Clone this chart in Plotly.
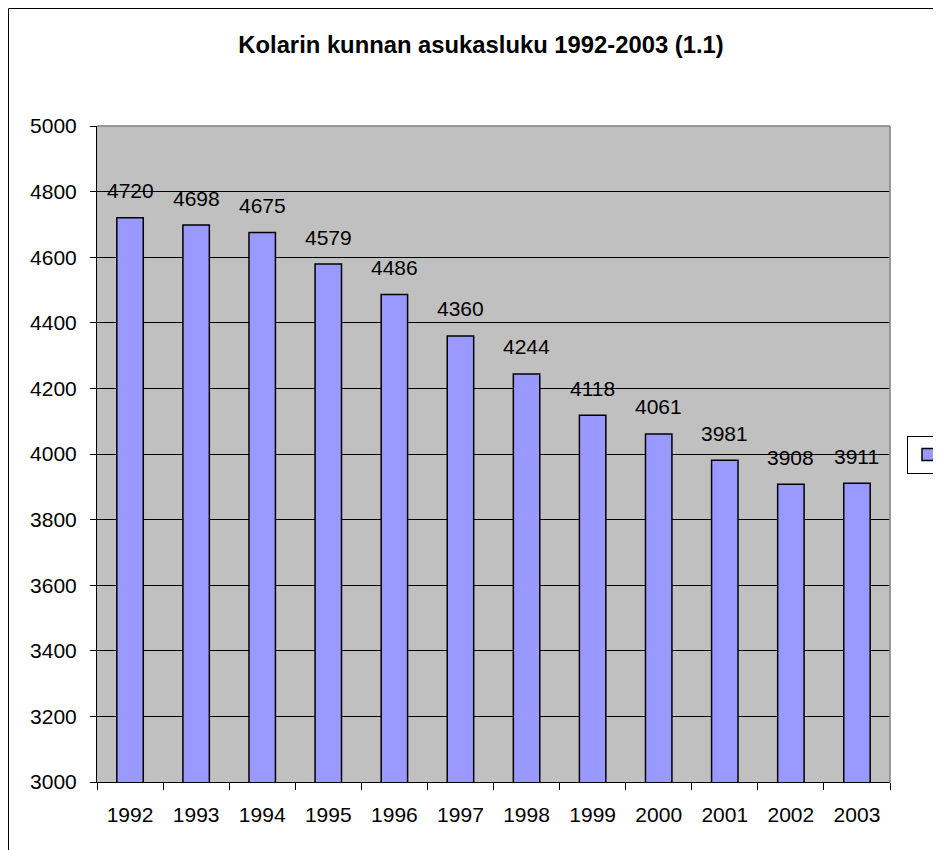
import plotly.graph_objects as go

years = ["1992", "1993", "1994", "1995", "1996", "1997", "1998", "1999", "2000", "2001", "2002", "2003"]
population = [4720, 4698, 4675, 4579, 4486, 4360, 4244, 4118, 4061, 3981, 3908, 3911]
y_ticks = [3000, 3200, 3400, 3600, 3800, 4000, 4200, 4400, 4600, 4800, 5000]
title_text = "Kolarin kunnan asukasluku 1992-2003 (1.1)"

FONT = "Liberation Sans, Arial, sans-serif"
OFF = 8  # page body margin
W, H = 941, 850
L, T = 97 - OFF, 126 - OFF
R = W - (890 - OFF)
B = H - (782 - OFF)

fig = go.Figure()
fig.add_trace(go.Bar(
    x=years, y=population, name="",
    marker=dict(color="#9999FF", line=dict(color="black", width=1.5)),
    width=0.4, showlegend=True,
))

for i, v in enumerate(population):
    fig.add_annotation(x=i, y=v, text=str(v), showarrow=False,
                       xref="x", yref="y",
                       yanchor="middle", yshift=27,
                       font=dict(family=FONT, size=21, color="black"))

pw = W - L - R
ph = H - T - B
def px_x(x):
    return (x - OFF - L) / pw
def px_y(y):
    return (H - B - (y - OFF)) / ph

# outer chart border
fig.add_shape(type="rect", xref="paper", yref="paper",
              x0=px_x(8.5), x1=px_x(980), y0=px_y(900), y1=px_y(8.5),
              line=dict(color="black", width=1), layer="above")
# plot area top/right border (gray)
fig.add_shape(type="line", xref="paper", yref="paper", x0=0, x1=1, y0=1, y1=1,
              line=dict(color="#808080", width=1.5), layer="above")
fig.add_shape(type="line", xref="paper", yref="paper", x0=1, x1=1, y0=0, y1=1,
              line=dict(color="#808080", width=1.5), layer="above")

fig.update_layout(
    width=W, height=H,
    margin=dict(l=L, r=R, t=T, b=B, autoexpand=False),
    paper_bgcolor="white", plot_bgcolor="#C0C0C0",
    font=dict(family=FONT, size=21, color="black"),
    title=dict(text="<b>" + title_text + "</b>", x=(481 - OFF) / W, xanchor="center",
               xref="container", yref="container", y=1 - (45 - OFF) / H, yanchor="middle",
               font=dict(family=FONT, size=23.8, color="black")),
    bargap=0.6,
    showlegend=True,
    legend=dict(x=px_x(907), xanchor="left", y=px_y(455), yanchor="middle",
                bgcolor="white", bordercolor="black", borderwidth=1,
                font=dict(family=FONT, size=17)),
    xaxis=dict(type="category", range=[-0.5, 11.5], autorange=False,
               showline=True, linecolor="black", linewidth=1,
               ticks="outside", ticklen=7, tickcolor="black", tickson="boundaries",
               showgrid=False, ticklabelstandoff=14, tickangle=0,
               tickfont=dict(family=FONT, size=21, color="black")),
    yaxis=dict(range=[3000, 5000], autorange=False, tickvals=y_ticks, showline=True,
               linecolor="black", linewidth=1, ticks="outside", ticklen=6, tickcolor="black",
               showgrid=True, gridcolor="black", gridwidth=1, zeroline=False,
               ticklabelstandoff=9,
               tickfont=dict(family=FONT, size=21, color="black")),
)

fig.write_html("out.html")
